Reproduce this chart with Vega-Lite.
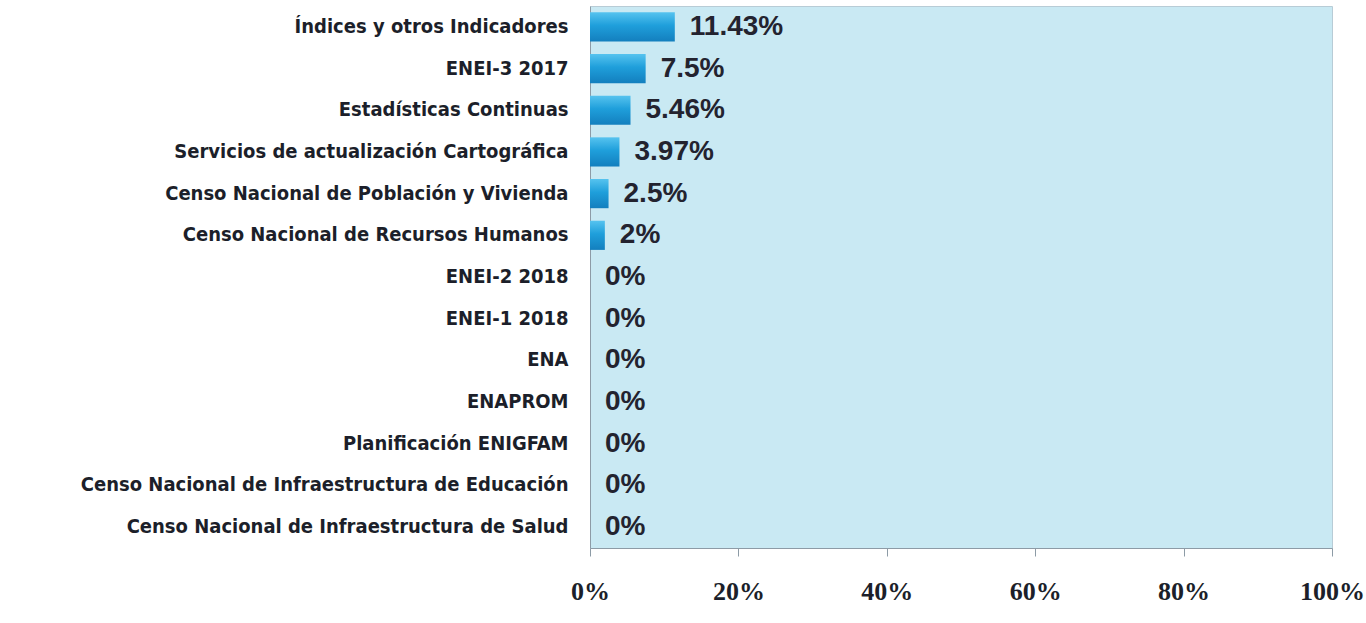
{
  "$schema": "https://vega.github.io/schema/vega-lite/v6.json",
  "autosize": {"type": "none"},
  "width": 742,
  "height": 542,
  "padding": {"left": 590, "top": 6, "right": 34, "bottom": 75},
  "background": "#ffffff",
  "config": {
    "view": {"fill": "#c9e9f3", "stroke": "#b8ccd6", "strokeWidth": 1}
  },
  "data": {
    "values": [
      {"item": "Índices y otros Indicadores", "pct": 11.43, "label": "11.43%"},
      {"item": "ENEI-3 2017", "pct": 7.5, "label": "7.5%"},
      {"item": "Estadísticas Continuas", "pct": 5.46, "label": "5.46%"},
      {"item": "Servicios de actualización Cartográfica", "pct": 3.97, "label": "3.97%"},
      {"item": "Censo Nacional de Población y Vivienda", "pct": 2.5, "label": "2.5%"},
      {"item": "Censo Nacional de Recursos Humanos", "pct": 2, "label": "2%"},
      {"item": "ENEI-2 2018", "pct": 0, "label": "0%"},
      {"item": "ENEI-1 2018", "pct": 0, "label": "0%"},
      {"item": "ENA", "pct": 0, "label": "0%"},
      {"item": "ENAPROM", "pct": 0, "label": "0%"},
      {"item": "Planificación ENIGFAM", "pct": 0, "label": "0%"},
      {"item": "Censo Nacional de Infraestructura de Educación", "pct": 0, "label": "0%"},
      {"item": "Censo Nacional de Infraestructura de Salud", "pct": 0, "label": "0%"}
    ]
  },
  "encoding": {
    "y": {
      "field": "item",
      "type": "nominal",
      "sort": null,
      "scale": {"paddingInner": 0.3, "paddingOuter": 0.15},
      "axis": {
        "title": null,
        "ticks": false,
        "domainColor": "#8d9ba6",
        "labelFont": "DejaVu Sans Condensed",
        "labelFontWeight": "bold",
        "labelFontSize": 20,
        "labelColor": "#1c1f2a",
        "labelPadding": 22,
        "labelLimit": 600
      }
    },
    "x": {
      "field": "pct",
      "type": "quantitative",
      "scale": {"domain": [0, 100], "nice": false},
      "axis": {
        "title": null,
        "values": [0, 20, 40, 60, 80, 100],
        "grid": false,
        "domainColor": "#8d9ba6",
        "tickColor": "#8d9ba6",
        "tickSize": 8,
        "labelExpr": "datum.value + '%'",
        "labelFont": "Liberation Serif",
        "labelFontWeight": "bold",
        "labelFontSize": 26,
        "labelColor": "#1c1f2a",
        "labelPadding": 22,
        "labelFlush": false
      }
    }
  },
  "layer": [
    {
      "mark": {
        "type": "bar",
        "color": {
          "gradient": "linear",
          "x1": 0, "y1": 0, "x2": 0, "y2": 1,
          "stops": [
            {"offset": 0, "color": "#56c3ef"},
            {"offset": 0.45, "color": "#1f9fdb"},
            {"offset": 1, "color": "#137fbe"}
          ]
        }
      }
    },
    {
      "mark": {
        "type": "text",
        "align": "left",
        "baseline": "middle",
        "dx": 15,
        "font": "Liberation Sans",
        "fontWeight": "bold",
        "fontSize": 28,
        "color": "#23232f"
      },
      "encoding": {"text": {"field": "label"}}
    }
  ]
}
